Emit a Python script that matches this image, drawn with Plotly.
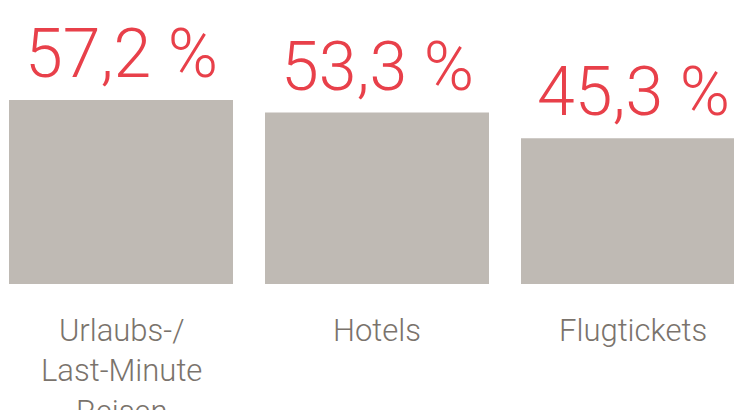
import plotly.graph_objects as go

categories = ["Urlaubs-/<br>Last-Minute<br>Reisen", "Hotels", "Flugtickets"]
values = [57.2, 53.3, 45.3]
value_labels = ["57,2 %", "53,3 %", "45,3 %"]

BAR = "#bfbab4"
RED = "#e8404a"
GRAY = "#7a736c"
FONT = "Roboto"

x = list(range(len(categories)))

fig = go.Figure()
fig.add_trace(go.Bar(x=x, y=values, marker=dict(color=BAR, line=dict(width=0)),
                     width=0.875, hoverinfo="skip"))

annotations = []
for xi, v, t in zip(x, values, value_labels):
    annotations.append(dict(x=xi, y=v, xref="x", yref="y", text=t, showarrow=False,
                            yanchor="bottom", yshift=4,
                            font=dict(family=FONT, size=68, color=RED, weight=300)))
for xi, c in zip(x, categories):
    annotations.append(dict(x=xi, y=0, xref="x", yref="y", text=c, showarrow=False,
                            yanchor="top", yshift=-26,
                            font=dict(family=FONT, size=31, color=GRAY, weight=300)))

fig.update_layout(
    width=734, height=410,
    margin=dict(l=0, r=0, t=0, b=0),
    paper_bgcolor="white", plot_bgcolor="white",
    showlegend=False,
    xaxis=dict(range=[-0.4727, 2.3945], visible=False, fixedrange=True),
    yaxis=dict(range=[-39.17, 88.28], visible=False, fixedrange=True),
    annotations=annotations,
)

fig.write_html("out.html", config={"displayModeBar": False},
               post_script="document.body.style.margin='0';document.body.style.overflow='hidden';")
